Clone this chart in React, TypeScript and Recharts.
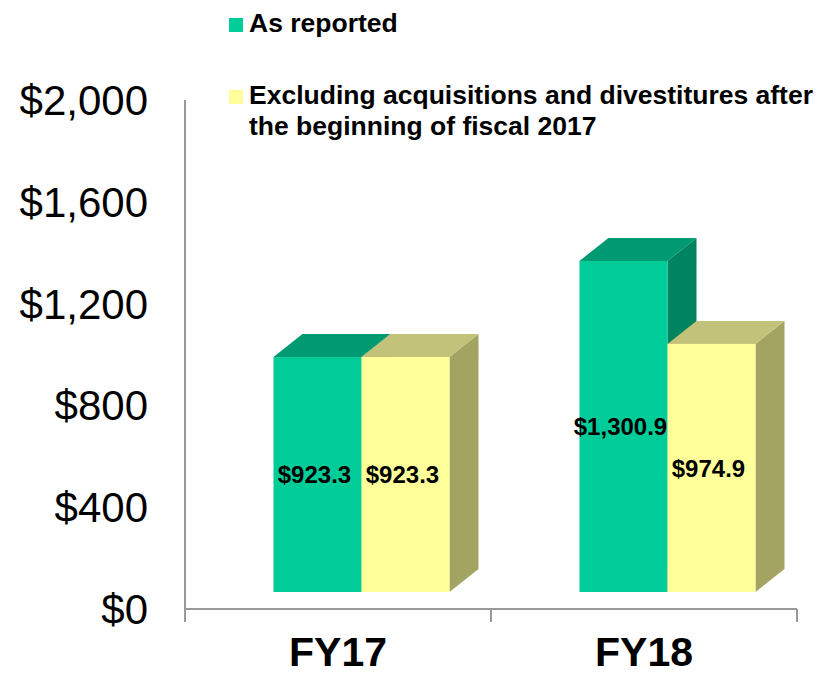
import React from "react";
import { BarChart, Bar, XAxis, YAxis, LabelList } from "recharts";

const categories = ["FY17", "FY18"];
const asReported = [923.3, 1300.9];
const excluding = [923.3, 974.9];
const yTicks = [0, 400, 800, 1200, 1600, 2000];
const seriesNames = [
  "As reported",
  "Excluding acquisitions and divestitures after the beginning of fiscal 2017",
];
const legendLines = [
  ["As reported"],
  ["Excluding acquisitions and divestitures after", "the beginning of fiscal 2017"],
];

const data = categories.map((c, i) => ({
  category: c,
  asReported: asReported[i],
  excluding: excluding[i],
}));

const FONT = "'Liberation Sans', Arial, Helvetica, sans-serif";
const SHIFT_X = 23;
const SHIFT_Y = -17;
const DEPTH_X = 29;
const DEPTH_Y = -23;

const palette = {
  green: { front: "#00CC99", top: "#009A72", side: "#00835F" },
  yellow: { front: "#FFFF99", top: "#C2C27A", side: "#A3A362" },
};

const make3D = (colors: { front: string; top: string; side: string }) => (props: any) => {
  const { x, y, width, height } = props;
  if (x == null || y == null) return null;
  const x0 = x + SHIFT_X;
  const top = y + SHIFT_Y;
  const bottom = y + height + SHIFT_Y;
  const w = width;
  const topFace = `${x0},${top} ${x0 + DEPTH_X},${top + DEPTH_Y} ${x0 + w + DEPTH_X},${top + DEPTH_Y} ${x0 + w},${top}`;
  const sideFace = `${x0 + w},${top} ${x0 + w + DEPTH_X},${top + DEPTH_Y} ${x0 + w + DEPTH_X},${bottom + DEPTH_Y} ${x0 + w},${bottom}`;
  return (
    <g>
      <polygon points={sideFace} fill={colors.side} />
      <polygon points={topFace} fill={colors.top} />
      <rect x={x0} y={top} width={w} height={bottom - top} fill={colors.front} />
    </g>
  );
};

const fmtVal = (v: number) =>
  "$" + v.toLocaleString("en-US", { minimumFractionDigits: 1, maximumFractionDigits: 1 });

const renderLabel = (props: any) => {
  const { x, y, width, height, value } = props;
  const cx = x + SHIFT_X + width / 2 - 3;
  const cy = y + SHIFT_Y + height / 2;
  return (
    <text
      x={cx}
      y={cy}
      dy="0.36em"
      textAnchor="middle"
      fontFamily={FONT}
      fontWeight="bold"
      fontSize={24}
      fill="#000"
    >
      {fmtVal(value)}
    </text>
  );
};

const XTick = (props: any) => {
  const { x, y, payload } = props;
  const off = payload && payload.offset ? payload.offset : 153;
  return (
    <g>
      <line x1={x - off} y1={y} x2={x - off} y2={y + 13} stroke="#999" strokeWidth={2} />
      <line x1={x + off} y1={y} x2={x + off} y2={y + 13} stroke="#999" strokeWidth={2} />
      <text
        x={x}
        y={y + 57}
        textAnchor="middle"
        fontFamily={FONT}
        fontWeight="bold"
        fontSize={41}
        fill="#000"
      >
        {payload.value}
      </text>
    </g>
  );
};

export default function App() {
  return (
    <div style={{ position: "absolute", left: 0, top: 0, width: 820, height: 675, background: "#fff" }}>
      <BarChart
        width={820}
        height={675}
        data={data}
        margin={{ top: 100, right: 23, bottom: 0, left: 0 }}
        barCategoryGap="21.4%"
        barGap={0}
      >
        <XAxis
          dataKey="category"
          height={66}
          axisLine={{ stroke: "#999", strokeWidth: 2 }}
          tickLine={false}
          tickSize={0}
          tickMargin={0}
          tick={<XTick />}
          interval={0}
        />
        <YAxis
          width={185}
          domain={[0, 2000]}
          ticks={yTicks}
          interval={0}
          axisLine={{ stroke: "#999", strokeWidth: 2 }}
          tickLine={false}
          tickSize={0}
          tickMargin={37}
          tickFormatter={(v: number) => "$" + v.toLocaleString("en-US")}
          tick={{ fill: "#000", fontSize: 42, fontFamily: FONT }}
        />
        <Bar
          dataKey="asReported"
          name={seriesNames[0]}
          fill={palette.green.front}
          shape={make3D(palette.green)}
          isAnimationActive={false}
        >
          <LabelList dataKey="asReported" content={renderLabel} />
        </Bar>
        <Bar
          dataKey="excluding"
          name={seriesNames[1]}
          fill={palette.yellow.front}
          shape={make3D(palette.yellow)}
          isAnimationActive={false}
        >
          <LabelList dataKey="excluding" content={renderLabel} />
        </Bar>
      </BarChart>
      <svg
        width={820}
        height={150}
        style={{ position: "absolute", left: 0, top: 0, pointerEvents: "none" }}
      >
        {legendLines.map((lines, i) => {
          const baseY = i === 0 ? 32 : 104;
          const color = i === 0 ? palette.green.front : palette.yellow.front;
          return (
            <g key={i}>
              <rect x={229} y={baseY - 14} width={14} height={14} fill={color} />
              {lines.map((ln, j) => (
                <text
                  key={j}
                  x={249}
                  y={baseY + j * 31}
                  fontFamily={FONT}
                  fontWeight="bold"
                  fontSize={26.5}
                  fill="#000"
                >
                  {ln}
                </text>
              ))}
            </g>
          );
        })}
      </svg>
    </div>
  );
}
